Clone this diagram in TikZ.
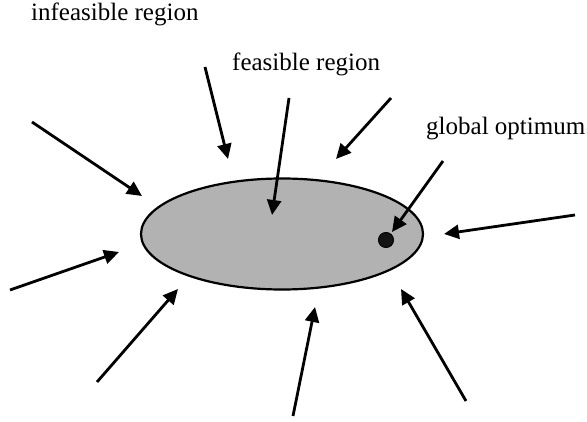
\documentclass[tikz,border=0pt]{standalone}
\usepackage{fontspec}
\setmainfont{Liberation Serif}
\usetikzlibrary{arrows.meta,shapes.geometric}
\begin{document}
\begin{tikzpicture}[x=1pt,y=-1pt,
  arr/.style={line width=2.8pt, -{Triangle[length=15pt,width=14pt]}},
  lbl/.style={anchor=base west, inner sep=0pt, font=\fontsize{25}{30}\selectfont}]
\useasboundingbox (0,0) rectangle (587,422);
% region
\node[ellipse, draw=black, line width=2.2pt, fill=black!30, minimum width=282pt, minimum height=111pt, inner sep=0pt] (region) at (282,234) {};
\node[circle, draw=black, line width=1pt, fill=black!92, minimum size=15pt, inner sep=0pt] (opt) at (386,240) {};
% labels
\node[lbl] (infl) at (31,21) {infeasible region};
\node[lbl] (feasl) at (232,71) {feasible region};
\node[lbl] (optl) at (426,135) {global optimum};
% arrow coordinates
\coordinate (t1) at (32,122);  \coordinate (h1) at (142,196);
\coordinate (t2) at (205,67);  \coordinate (h2) at (228,159);
\coordinate (t3) at (289,98);  \coordinate (h3) at (272,215);
\coordinate (t4) at (391,98);  \coordinate (h4) at (336,159);
\coordinate (t5) at (443,161); \coordinate (h5) at (392,232);
\coordinate (t6) at (575,215); \coordinate (h6) at (444,234);
\coordinate (t7) at (10,290);  \coordinate (h7) at (119,252);
\coordinate (t8) at (97,382);  \coordinate (h8) at (178,289);
\coordinate (t9) at (293,416); \coordinate (h9) at (315,307);
\coordinate (t10) at (466,401); \coordinate (h10) at (401,289);
\foreach \i in {1,...,10} { \draw[arr] (t\i) -- (h\i); }
\end{tikzpicture}
\end{document}
